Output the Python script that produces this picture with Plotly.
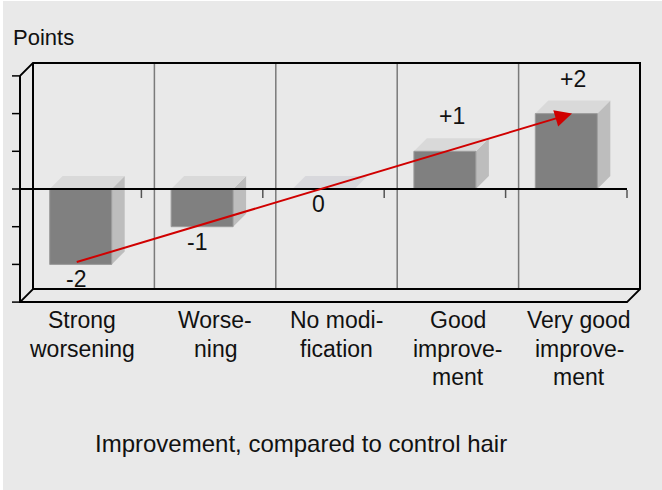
import plotly.graph_objects as go

# ---------------- data ----------------
categories = ["Strong<br>worsening", "Worse-<br>ning", "No modi-<br>fication",
              "Good<br>improve-<br>ment", "Very good<br>improve-<br>ment"]
values = [-2, -1, 0, 1, 2]
value_labels = ["-2", "-1", "0", "+1", "+2"]
y_ticks = [-3, -2, -1, 0, 1, 2, 3]
y_title = "Points"
x_title = "Improvement, compared to control hair"

# ---------------- geometry (styling) ----------------
W, H = 662, 490
PX_X, PX_Y = 121.4, 37.7          # pixels per category / per point
X0 = -0.5 - 20 / PX_X
Y1 = 189 / PX_Y
x_range = [X0, X0 + W / PX_X]
y_range = [Y1 - H / PX_Y, Y1]
DX, DY = 13 / PX_X, 13 / PX_Y     # pseudo-3D depth offset
HW = 31 / PX_X                    # bar half width
n = len(values)
xl, xrt = -0.5, n - 0.5
ylo, yhi = min(y_ticks), max(y_ticks)

FONT = "Liberation Sans, Arial, sans-serif"
BG = "#e9e9e9"

fig = go.Figure()


def line(xs, ys, color="#000", width=2):
    fig.add_trace(go.Scatter(x=xs, y=ys, mode="lines", hoverinfo="skip",
                             line=dict(color=color, width=width), showlegend=False))


def poly(xs, ys, fill, lc=None, lw=0):
    fig.add_trace(go.Scatter(x=list(xs) + [xs[0]], y=list(ys) + [ys[0]], mode="lines",
                             fill="toself", fillcolor=fill, hoverinfo="skip",
                             line=dict(color=lc or fill, width=lw), showlegend=False))


# back-wall category gridlines
for k in range(1, n):
    line([k - 0.5 + DX, k - 0.5 + DX], [ylo + DY, yhi + DY], color="#7a7a7a", width=1.5)

# wall outline
line([xl, xl + DX, xrt + DX, xrt + DX, xrt, xl, xl],
     [yhi, yhi + DY, yhi + DY, ylo + DY, ylo, ylo, yhi])
line([xl + DX, xl + DX, xrt + DX], [yhi + DY, ylo + DY, ylo + DY])
line([xl, xl + DX], [ylo, ylo + DY])

# y ticks (no labels)
for t in y_ticks:
    line([xl - 8 / PX_X, xl], [t, t], width=1.5)

# bars
for i, v in enumerate(values):
    top = max(v, 0)
    if v != 0:
        poly([i + HW, i + HW, i + HW + DX, i + HW + DX], [0, v, v + DY, DY], "#bdbdbd")
    poly([i - HW, i + HW, i + HW + DX, i - HW + DX], [top, top, top + DY, top + DY],
         "#d8d8dc" if v == 0 else "#d9d9d9")
    if v != 0:
        poly([i - HW, i + HW, i + HW, i - HW], [0, 0, v, v], "#808080", "#9c9c9c", 1)

# zero line and its ticks
line([xl, xrt], [0, 0], width=2)
for k in range(1, n + 1):
    line([k - 0.5, k - 0.5], [-1 / PX_Y, -9 / PX_Y], color="#555", width=1.5)

ann = []
# value labels
for i, (v, lab) in enumerate(zip(values, value_labels)):
    if v > 0:
        ann.append(dict(x=i + 7 / PX_X, y=v, text=lab, yanchor="bottom", yshift=20))
    else:
        ann.append(dict(x=i - 5 / PX_X, y=v, text=lab, yanchor="top", yshift=0))
# category labels (one annotation per line, for tighter line spacing)
for i, c in enumerate(categories):
    for k, part in enumerate(c.split("<br>")):
        ann.append(dict(x=i + DX, y=ylo, text=part, yanchor="middle",
                        yshift=-18 - 28.5 * k, xshift=-12 if i == 0 else 0))
for a in ann:
    a.update(xref="x", yref="y", showarrow=False, xanchor="center",
             font=dict(family=FONT, size=23, color="#111"))

# titles
ann.append(dict(xref="paper", yref="paper", x=301 / W, y=1 - 443 / H, text=x_title,
                showarrow=False, xanchor="center", yanchor="middle",
                font=dict(family=FONT, size=24, color="#111")))
ann.append(dict(xref="paper", yref="paper", x=11 / W, y=1 - 37 / H, text=y_title,
                showarrow=False, xanchor="left", yanchor="middle",
                font=dict(family=FONT, size=22, color="#111")))

# trend arrow from first to last value
ann.append(dict(xref="x", yref="y", axref="x", ayref="y",
                x=n - 1 + 0.047, y=values[-1], ax=-0.045, ay=values[0] + 0.05,
                text="", showarrow=True, arrowhead=2, arrowsize=1.7, arrowwidth=2,
                arrowcolor="#d00000", standoff=0, startstandoff=0))

fig.update_layout(
    width=W, height=H, margin=dict(l=0, r=0, t=0, b=0),
    paper_bgcolor=BG, plot_bgcolor=BG,
    xaxis=dict(range=x_range, visible=False, fixedrange=True),
    yaxis=dict(range=y_range, visible=False, fixedrange=True),
    annotations=ann,
    shapes=[
        dict(type="rect", xref="paper", yref="paper", x0=0, x1=3 / W, y0=0, y1=1,
             fillcolor="#ffffff", line=dict(width=0), layer="below"),
        dict(type="rect", xref="paper", yref="paper", x0=0, x1=1, y0=1 - 1 / H, y1=1,
             fillcolor="#ffffff", line=dict(width=0), layer="below"),
    ],
)

fig.write_html("out.html", config={"displayModeBar": False},
               post_script="document.body.style.margin='0';")
